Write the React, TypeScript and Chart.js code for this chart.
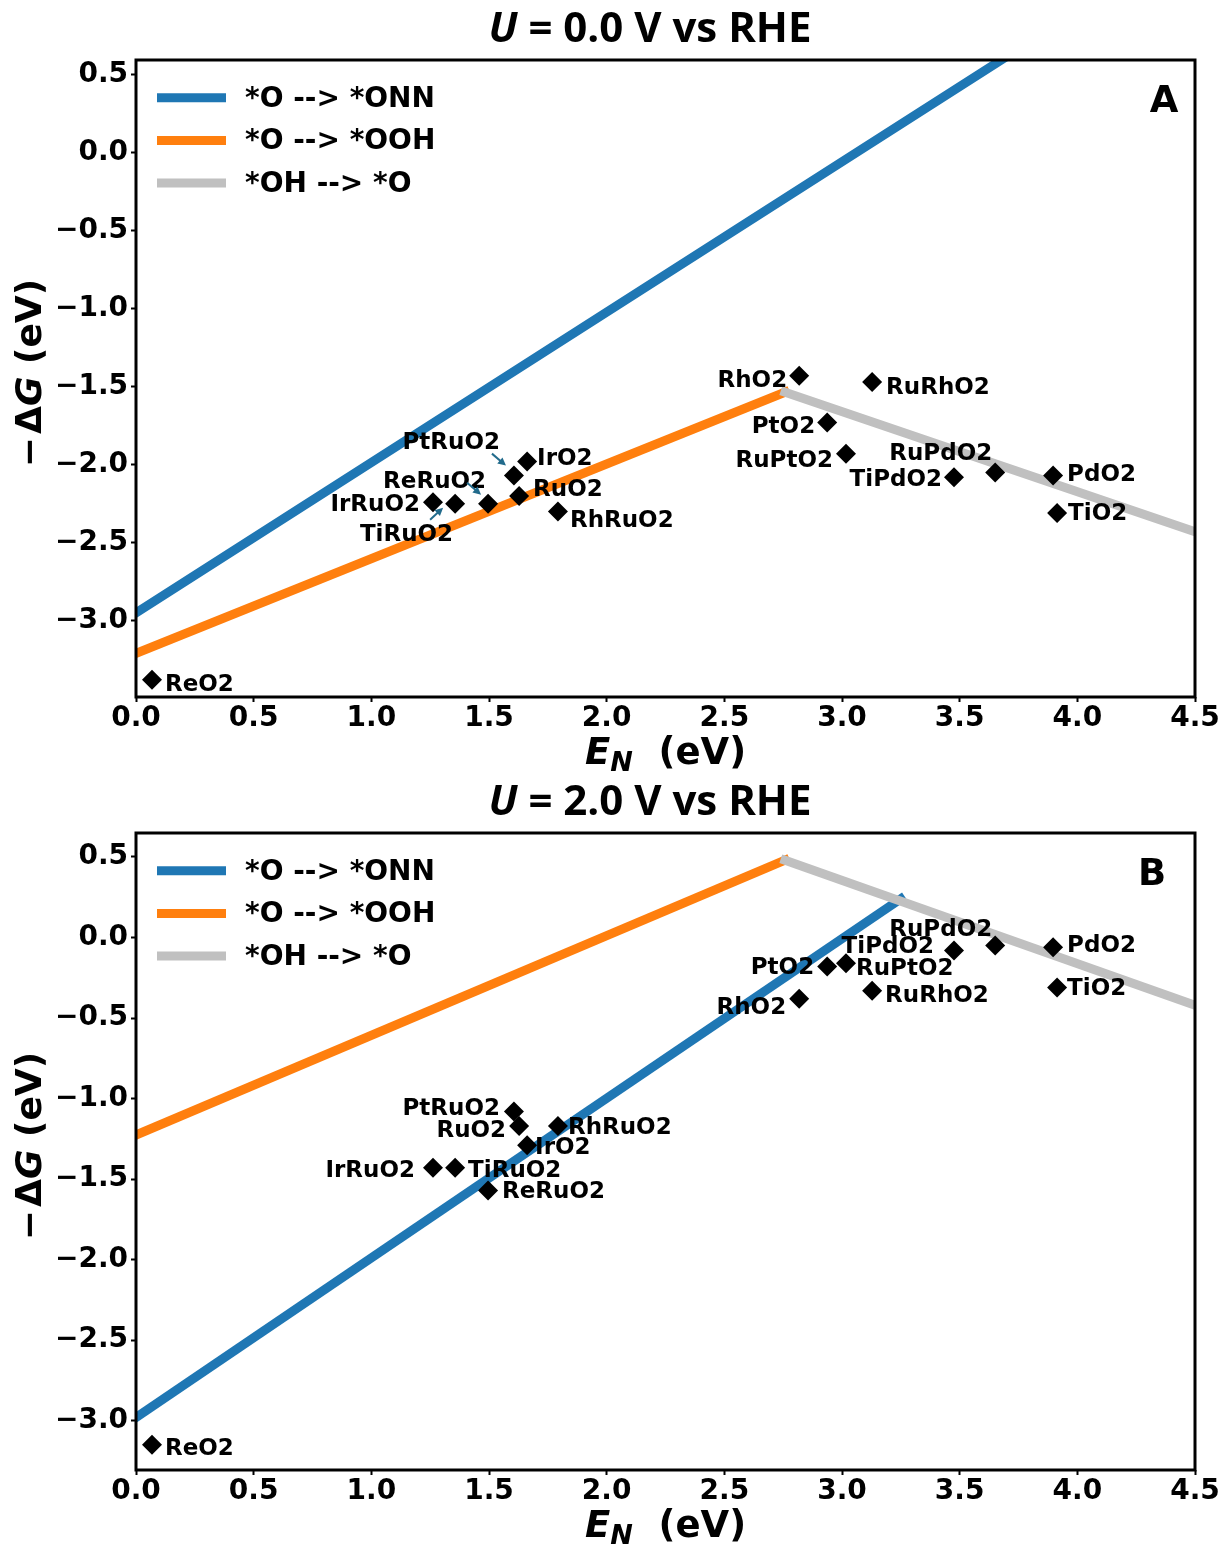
import React, { useEffect, useRef } from 'react';
import { Chart, registerables } from 'chart.js';

Chart.register(...registerables);

// ---------------- data ----------------
const materials = ['ReO2', 'IrRuO2', 'TiRuO2', 'ReRuO2', 'PtRuO2', 'IrO2', 'RuO2', 'RhRuO2', 'RhO2', 'RuRhO2', 'PtO2', 'RuPtO2', 'TiPdO2', 'RuPdO2', 'PdO2', 'TiO2'];
const eN = [0.068, 1.262, 1.356, 1.496, 1.606, 1.662, 1.628, 1.793, 2.818, 3.128, 2.937, 3.017, 3.476, 3.651, 3.897, 3.914];
const dG_U0 = [-3.38, -2.24, -2.25, -2.25, -2.07, -1.98, -2.20, -2.30, -1.43, -1.47, -1.73, -1.93, -2.08, -2.05, -2.07, -2.31];
const dG_U2 = [-3.15, -1.43, -1.43, -1.57, -1.08, -1.29, -1.17, -1.17, -0.38, -0.33, -0.18, -0.16, -0.08, -0.05, -0.06, -0.31];

const legendLabels = ['*O --> *ONN', '*O --> *OOH', '*OH --> *O'];

// line endpoints (E_N, -dG)
const onnX_U0 = [0, 4.5];
const onnY_U0 = [-2.95, 1.39];
const onnX_U2 = [0, 3.25];
const onnY_U2 = [-2.98, 0.24];
const oohX = [0, 2.758];
const oohY_U0 = [-3.21, -1.535];
const oohY_U2 = [-1.226, 0.48];
const ohoX = [2.758, 4.5];
const ohoY_U0 = [-1.535, -2.43];
const ohoY_U2 = [0.48, -0.42];

const xTicks = [0, 0.5, 1.0, 1.5, 2.0, 2.5, 3.0, 3.5, 4.0, 4.5];
const yTicks = [0.5, 0.0, -0.5, -1.0, -1.5, -2.0, -2.5, -3.0];

const yRange_U0 = [-3.49, 0.596];
const yRange_U2 = [-3.306, 0.649];

// ---------------- styling / annotation placement ----------------
const COLORS = ['#1f77b4', '#ff7f0e', '#c0c0c0'];
const ARROW_COLOR = '#226b8c';
const FONT = '"DejaVu Sans", sans-serif';
const TITLE_FONT = '"Open Sans", "DejaVu Sans", sans-serif';

type Place = [number, number, CanvasTextAlign];
const placeU0: Record<string, Place> = {
  ReO2: [13, 3, 'left'], IrRuO2: [-13, 1, 'right'], TiRuO2: [-2, 29, 'right'], ReRuO2: [-2, -24, 'right'],
  PtRuO2: [-14, -35, 'right'], IrO2: [10, -5, 'left'], RuO2: [14, -8, 'left'], RhRuO2: [12, 8, 'left'],
  RhO2: [-12, 3, 'right'], RuRhO2: [14, 4, 'left'], PtO2: [-12, 2, 'right'], RuPtO2: [-13, 5, 'right'],
  TiPdO2: [-12, 1, 'right'], RuPdO2: [-3, -21, 'right'], PdO2: [14, -3, 'left'], TiO2: [11, -1, 'left'],
};
const placeU2: Record<string, Place> = {
  ReO2: [13, 2, 'left'], IrRuO2: [-18, 1, 'right'], TiRuO2: [13, 1, 'left'], ReRuO2: [14, 0, 'left'],
  PtRuO2: [-14, -4, 'right'], IrO2: [8, 1, 'left'], RuO2: [-13, 3, 'right'], RhRuO2: [10, 0, 'left'],
  RhO2: [-13, 7, 'right'], RuRhO2: [13, 3, 'left'], PtO2: [-13, -1, 'right'], RuPtO2: [10, 4, 'left'],
  TiPdO2: [-20, -5, 'right'], RuPdO2: [-3, -18, 'right'], PdO2: [14, -3, 'left'], TiO2: [10, 0, 'left'],
};
const arrowsU0: Record<string, [[number, number], [number, number]]> = {
  PtRuO2: [[-22, -22], [-8, -10]],
  ReRuO2: [[-21, -21], [-7, -9]],
  TiRuO2: [[-25, 16], [-12, 4]],
};

interface PanelCfg {
  title: string;
  letter: string;
  letterX: number;
  dG: number[];
  yRange: number[];
  onnX: number[]; onnY: number[];
  oohY: number[]; ohoY: number[];
  place: Record<string, Place>;
  arrows: Record<string, [[number, number], [number, number]]>;
}

const panels: PanelCfg[] = [
  { title: ' = 0.0 V vs RHE', letter: 'A', letterX: 1164, dG: dG_U0, yRange: yRange_U0, onnX: onnX_U0, onnY: onnY_U0, oohY: oohY_U0, ohoY: ohoY_U0, place: placeU0, arrows: arrowsU0 },
  { title: ' = 2.0 V vs RHE', letter: 'B', letterX: 1152, dG: dG_U2, yRange: yRange_U2, onnX: onnX_U2, onnY: onnY_U2, oohY: oohY_U2, ohoY: ohoY_U2, place: placeU2, arrows: {} },
];

const zip = (xs: number[], ys: number[]) => xs.map((x, i) => ({ x, y: ys[i] }));
const fmt = (v: number) => (Math.round(v * 10) / 10).toFixed(1).replace('-', '\u2212');

function makeOverlay(cfg: PanelCfg) {
  return {
    id: 'overlay',
    afterDraw(chart: any) {
      const { ctx, chartArea: ca, scales } = chart;
      const xs = scales.x;
      const ys = scales.y;
      ctx.save();
      // point labels + arrows
      ctx.fillStyle = '#000';
      ctx.font = `bold 23px ${FONT}`;
      ctx.textBaseline = 'alphabetic';
      materials.forEach((name, i) => {
        const px = xs.getPixelForValue(eN[i]);
        const py = ys.getPixelForValue(cfg.dG[i]);
        const [dx, dy, al] = cfg.place[name];
        ctx.textAlign = al;
        ctx.fillStyle = '#000';
        ctx.fillText(name, px + dx, py + dy + 8);
        const arr = cfg.arrows[name];
        if (arr) {
          const [s, e] = arr;
          const x0 = px + s[0], y0 = py + s[1], x1 = px + e[0], y1 = py + e[1];
          const ang = Math.atan2(y1 - y0, x1 - x0);
          const hl = 8, hw = 4;
          ctx.strokeStyle = ARROW_COLOR;
          ctx.fillStyle = ARROW_COLOR;
          ctx.lineWidth = 2;
          ctx.beginPath();
          ctx.moveTo(x0, y0);
          ctx.lineTo(x1 - Math.cos(ang) * hl * 0.8, y1 - Math.sin(ang) * hl * 0.8);
          ctx.stroke();
          ctx.beginPath();
          ctx.moveTo(x1, y1);
          ctx.lineTo(x1 - Math.cos(ang) * hl - Math.sin(ang) * hw, y1 - Math.sin(ang) * hl + Math.cos(ang) * hw);
          ctx.lineTo(x1 - Math.cos(ang) * hl + Math.sin(ang) * hw, y1 - Math.sin(ang) * hl - Math.cos(ang) * hw);
          ctx.closePath();
          ctx.fill();
        }
      });

      // frame
      ctx.lineWidth = 3;
      ctx.strokeStyle = '#000';
      ctx.strokeRect(ca.left, ca.top, ca.right - ca.left, ca.bottom - ca.top);

      // panel letter
      ctx.fillStyle = '#000';
      ctx.font = `bold 37px ${FONT}`;
      ctx.textAlign = 'center';
      ctx.fillText(cfg.letter, cfg.letterX, ca.top + 52);

      // legend
      legendLabels.forEach((lab, k) => {
        const ly = ca.top + 37.7 + k * 42.7;
        ctx.strokeStyle = COLORS[k];
        ctx.lineWidth = 9;
        ctx.lineCap = 'butt';
        ctx.beginPath();
        ctx.moveTo(157, ly);
        ctx.lineTo(226, ly);
        ctx.stroke();
        ctx.fillStyle = '#000';
        ctx.font = `bold 28px ${FONT}`;
        ctx.textAlign = 'left';
        ctx.fillText(lab, 245, ly + 9);
      });

      // title: italic U + rest
      ctx.textAlign = 'left';
      const tItal = `italic bold 42px ${TITLE_FONT}`;
      const tReg = `bold 42px ${TITLE_FONT}`;
      ctx.font = tItal;
      const wU = ctx.measureText('U').width;
      ctx.font = tReg;
      const wR = ctx.measureText(cfg.title).width;
      const tx = 650 - (wU + wR) / 2;
      ctx.font = tItal;
      ctx.fillText('U', tx, 42);
      ctx.font = tReg;
      ctx.fillText(cfg.title, tx + wU, 42);

      // x axis label: E_N  (eV)
      const fE = `italic bold 37px ${FONT}`;
      const fN = `italic bold 27px ${FONT}`;
      const fR = `bold 37px ${FONT}`;
      ctx.font = fE; const wE = ctx.measureText('E').width;
      ctx.font = fN; const wN = ctx.measureText('N').width;
      ctx.font = fR; const wEV = ctx.measureText('  (eV)').width;
      const cx = (ca.left + ca.right) / 2;
      let xx = cx - (wE + wN + wEV) / 2;
      const xb = 764;
      ctx.font = fE; ctx.fillText('E', xx, xb); xx += wE;
      ctx.font = fN; ctx.fillText('N', xx, xb + 7); xx += wN;
      ctx.font = fR; ctx.fillText('  (eV)', xx, xb);

      // y axis label: −ΔG (eV), rotated
      const fYR = `bold 36px ${FONT}`;
      const fYI = `italic bold 36px ${FONT}`;
      ctx.save();
      ctx.translate(41, 373);
      ctx.rotate(-Math.PI / 2);
      ctx.font = fYR; const wm = ctx.measureText('\u2212').width;
      const wD = ctx.measureText('\u0394').width;
      ctx.font = fYI; const wG = ctx.measureText('G').width;
      ctx.font = fYR; const wP = ctx.measureText(' (eV)').width;
      const gap = 3;
      let yx = -(wm + gap + wD + wG + wP) / 2;
      ctx.font = fYR; ctx.fillText('\u2212', yx, 0); yx += wm + gap;
      ctx.fillText('\u0394', yx, 0); yx += wD;
      ctx.font = fYI; ctx.fillText('G', yx, 0); yx += wG;
      ctx.font = fYR; ctx.fillText(' (eV)', yx, 0);
      ctx.restore();

      ctx.restore();
    },
  };
}

function Panel({ cfg, top }: { cfg: PanelCfg; top: number }) {
  const ref = useRef<HTMLCanvasElement>(null);
  useEffect(() => {
    const tickFont = { family: FONT, size: 28, weight: 'bold' as const, lineHeight: 1 };
    const chart = new Chart(ref.current as HTMLCanvasElement, {
      type: 'scatter',
      data: {
        datasets: [
          {
            label: 'materials',
            data: materials.map((_, i) => ({ x: eN[i], y: cfg.dG[i] })),
            pointStyle: 'rectRot',
            pointRadius: 10,
            pointHoverRadius: 10,
            backgroundColor: '#000',
            borderWidth: 0,
            order: 0,
          },
          {
            label: legendLabels[2],
            data: zip(ohoX, cfg.ohoY),
            showLine: true,
            borderColor: COLORS[2],
            borderWidth: 9,
            borderCapStyle: 'square',
            pointRadius: 0,
            order: 1,
            clip: 0,
          },
          {
            label: legendLabels[1],
            data: zip(oohX, cfg.oohY),
            showLine: true,
            borderColor: COLORS[1],
            borderWidth: 9,
            borderCapStyle: 'square',
            pointRadius: 0,
            order: 2,
            clip: 0,
          },
          {
            label: legendLabels[0],
            data: zip(cfg.onnX, cfg.onnY),
            showLine: true,
            borderColor: COLORS[0],
            borderWidth: 9,
            borderCapStyle: 'square',
            pointRadius: 0,
            order: 3,
            clip: 0,
          },
        ] as any,
      },
      options: {
        responsive: false,
        animation: false,
        devicePixelRatio: 1,
        events: [],
        layout: { padding: { left: 0, right: 30, top: 60, bottom: 0 } },
        plugins: { legend: { display: false }, tooltip: { enabled: false }, title: { display: false } },
        scales: {
          x: {
            type: 'linear',
            position: 'bottom',
            min: 0,
            max: 4.5,
            afterBuildTicks: (s: any) => { s.ticks = xTicks.map((v) => ({ value: v })); },
            afterFit: (s: any) => { s.height = 76; },
            grid: { display: true, drawOnChartArea: false, drawTicks: true, tickLength: 5, tickWidth: 2, tickColor: '#000', color: '#000' },
            border: { display: false },
            ticks: { color: '#000', font: tickFont, padding: 3, maxRotation: 0, autoSkip: false, callback: (v: any) => fmt(Number(v)) },
          },
          y: {
            type: 'linear',
            position: 'left',
            min: cfg.yRange[0],
            max: cfg.yRange[1],
            afterBuildTicks: (s: any) => { s.ticks = yTicks.map((v) => ({ value: v })); },
            afterFit: (s: any) => { s.width = 136; },
            grid: { display: true, drawOnChartArea: false, drawTicks: true, tickLength: 5, tickWidth: 2, tickColor: '#000', color: '#000' },
            border: { display: false },
            ticks: { color: '#000', font: tickFont, padding: 3, autoSkip: false, callback: (v: any) => fmt(Number(v)) },
          },
        },
      } as any,
      plugins: [makeOverlay(cfg)],
    });
    return () => chart.destroy();
  }, [cfg]);
  return (
    <canvas
      ref={ref}
      width={1225}
      height={773}
      style={{ position: 'absolute', left: 0, top, width: 1225, height: 773, display: 'block' }}
    />
  );
}

export default function App() {
  return (
    <div style={{ position: 'absolute', left: 0, top: 0, width: 1225, height: 1546, background: '#fff' }}>
      <Panel cfg={panels[0]} top={0} />
      <Panel cfg={panels[1]} top={773} />
    </div>
  );
}
